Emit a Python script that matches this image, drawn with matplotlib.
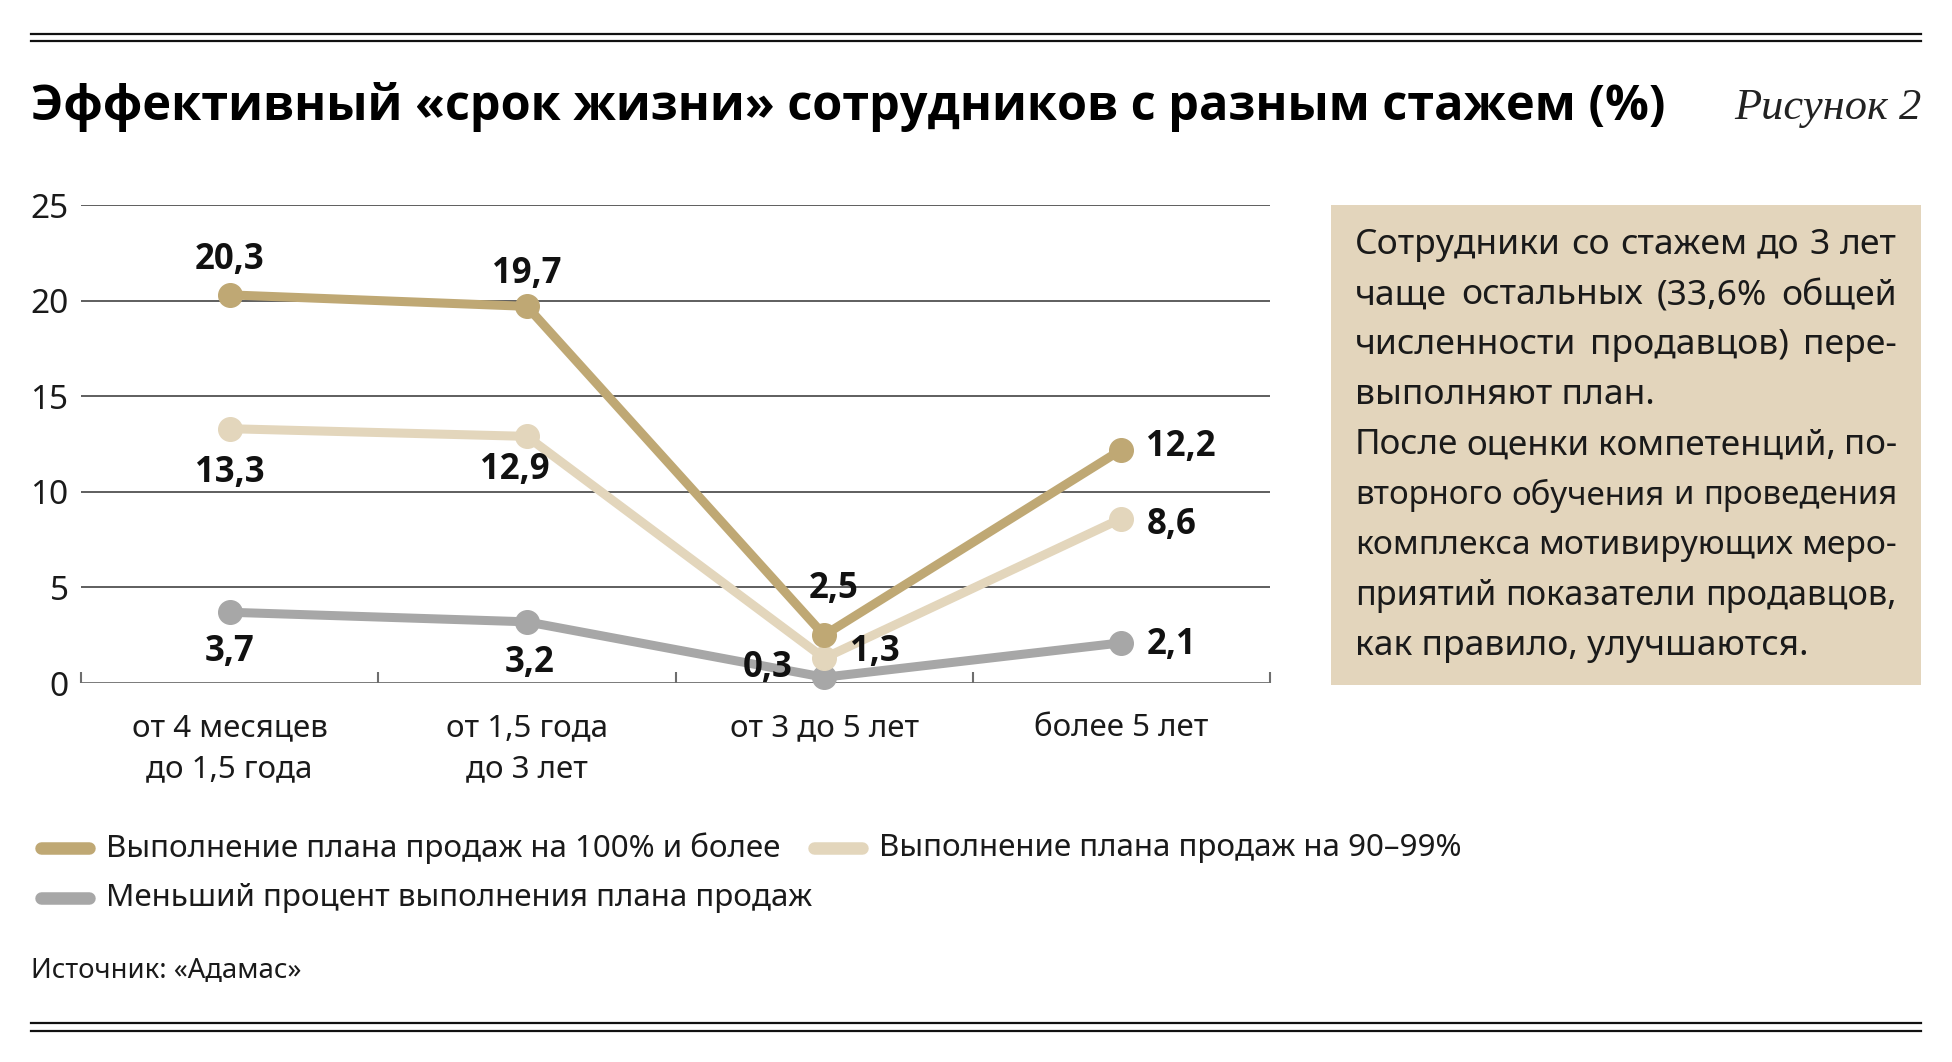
import matplotlib
matplotlib.use('Agg')
import matplotlib.pyplot as plt
from matplotlib.lines import Line2D
from matplotlib.patches import Rectangle
from matplotlib import font_manager as fm

# ---------------- data ----------------
categories = ['от 4 месяцев\nдо 1,5 года', 'от 1,5 года\nдо 3 лет', 'от 3 до 5 лет', 'более 5 лет']
plan_100 = [20.3, 19.7, 2.5, 12.2]
plan_90 = [13.3, 12.9, 1.3, 8.6]
plan_less = [3.7, 3.2, 0.3, 2.1]
series_names = ['Выполнение плана продаж на 100% и более',
                'Выполнение плана продаж на 90–99%',
                'Меньший процент выполнения плана продаж']
yticks = [0, 5, 10, 15, 20, 25]
title = 'Эффективный «срок жизни» сотрудников с разным стажем (%)'
fig_label = 'Рисунок 2'
source = 'Источник: «Адамас»'
note_lines = ['Сотрудники со стажем до 3 лет',
              'чаще остальных (33,6% общей',
              'численности продавцов) пере-',
              'выполняют план.',
              'После оценки компетенций, по-',
              'вторного обучения и проведения',
              'комплекса мотивирующих меро-',
              'приятий показатели продавцов,',
              'как правило, улучшаются.']
note_justify = [True, True, True, False, True, True, True, True, False]

# ---------------- style ----------------
GOLD = '#BFA874'
BEIGE = '#E3D6BC'
GREY = '#A7A7A7'
BOX = '#E3D5BC'
TXT = '#1a1a1a'
plt.rcParams['font.family'] = ['Noto Sans', 'DejaVu Sans']


def bold_family():
    for fam in ['Noto Sans', 'Open Sans', 'Lato', 'Roboto', 'Inter', 'DejaVu Sans']:
        for f in fm.fontManager.ttflist:
            if f.name == fam and f.style == 'normal':
                w = f.weight
                if isinstance(w, str):
                    w = {'bold': 700, 'semibold': 600, 'demibold': 600, 'heavy': 800,
                         'black': 900, 'extra bold': 800}.get(w.lower(), 400)
                if w >= 700:
                    return fam
    return 'DejaVu Sans'


BFAM = [bold_family(), 'DejaVu Sans']

W, H = 1952, 1062
fig = plt.figure(figsize=(W / 100, H / 100), dpi=100)


def fx(px):
    return px / W


def fy(py):
    return 1 - py / H


# rules top / bottom
for yy in (34, 41, 1023, 1031):
    fig.add_artist(Line2D([fx(31), fx(1921)], [fy(yy), fy(yy)], color='#111111', lw=1.6))

fig.text(fx(31), fy(107), title, fontsize=35, fontweight='bold', family=BFAM,
         color='#000000', ha='left', va='center')
fig.text(fx(1921), fy(108), fig_label, fontsize=32, family='Liberation Serif',
         style='italic', color='#222222', ha='right', va='center')

# ---------------- axes ----------------
ax = fig.add_axes([fx(81), fy(683), fx(1270) - fx(81), fy(205) - fy(683)])
x = list(range(len(categories)))
ax.set_xlim(-0.5, len(categories) - 0.5)
ax.set_ylim(0, 25)
for s in ax.spines.values():
    s.set_visible(False)
ax.set_yticks(yticks)
ax.set_yticklabels([str(v) for v in yticks])
ax.tick_params(axis='y', length=0, pad=9, labelsize=24, labelcolor=TXT)
for v in yticks[1:]:
    ax.axhline(v, color='#333333', lw=1.1, zorder=1)
ax.axhline(0, color='#6e6e6e', lw=2.0, zorder=1)

ax.set_xticks([i - 0.5 for i in range(len(categories) + 1)])
ax.set_xticklabels([])
ax.tick_params(axis='x', which='major', direction='in', length=8, width=1.5, color='#6e6e6e')
ax.set_xticks(x, minor=True)
ax.set_xticklabels(categories, minor=True, fontsize=22.5, color=TXT, linespacing=1.5)
ax.tick_params(axis='x', which='minor', length=0, pad=21.5)

series = [(plan_less, GREY), (plan_90, BEIGE), (plan_100, GOLD)]
for vals, col in series:
    ax.plot(x, vals, color=col, lw=6.5, marker='o', markersize=17,
            solid_capstyle='round', zorder=3, clip_on=False)

# label offsets in pixels (dx, dy, ha)
offs_100 = [(0, 35, 'center'), (0, 32, 'center'), (10, 46, 'center'), (25, 3, 'left')]
offs_90 = [(0, -44, 'center'), (-12, -34, 'center'), (26, 6, 'left'), (25, -6, 'left')]
offs_less = [(0, -40, 'center'), (3, -41, 'center'), (-31, 9, 'right'), (25, -2, 'left')]
for vals, offs in ((plan_100, offs_100), (plan_90, offs_90), (plan_less, offs_less)):
    for xi, v, (dx, dy, ha) in zip(x, vals, offs):
        ax.annotate(f'{v:.1f}'.replace('.', ','), (xi, v), xytext=(dx * 0.72, dy * 0.72),
                    textcoords='offset points', ha=ha, va='center', fontsize=25,
                    fontweight='bold', family=BFAM, color='#111111', zorder=5)

# ---------------- note box ----------------
fig.add_artist(Rectangle((fx(1331), fy(685)), fx(1921) - fx(1331), fy(205) - fy(685),
                         transform=fig.transFigure, facecolor=BOX, edgecolor='none'))
fig.canvas.draw()
renderer = fig.canvas.get_renderer()
x0, x1 = 1355, 1897
NFS = 25.5
MIN_GAP = 8
for i, (line, just) in enumerate(zip(note_lines, note_justify)):
    yy = 245 + i * 50.1
    if not just:
        fig.text(fx(x0), fy(yy), line, fontsize=NFS, color=TXT, ha='left', va='center')
        continue
    words = line.split(' ')
    ts = [fig.text(0, fy(yy), w, fontsize=NFS, color=TXT, ha='left', va='center') for w in words]
    ws = [t.get_window_extent(renderer).width for t in ts]
    avail = x1 - x0 - MIN_GAP * (len(words) - 1)
    if sum(ws) > avail:
        k = avail / sum(ws)
        for t in ts:
            t.set_fontsize(NFS * k)
        ws = [t.get_window_extent(renderer).width for t in ts]
    gap = (x1 - x0 - sum(ws)) / (len(words) - 1)
    cx = x0
    for t, w in zip(ts, ws):
        t.set_x(fx(cx))
        cx += w + gap

# ---------------- legend ----------------
leg = [(series_names[0], GOLD, 41, 89, 106, 848),
       (series_names[1], BEIGE, 814, 862, 879, 848),
       (series_names[2], GREY, 41, 89, 106, 898)]
for name, col, a, b, tx, yy in leg:
    fig.add_artist(Line2D([fx(a), fx(b)], [fy(yy), fy(yy)], color=col, lw=9,
                          solid_capstyle='round'))
    fig.text(fx(tx), fy(yy), name, fontsize=22.6, color=TXT, ha='left', va='center')

fig.text(fx(31), fy(971), source, fontsize=19.8, color=TXT, ha='left', va='center')

fig.savefig('out.png', dpi=100)
